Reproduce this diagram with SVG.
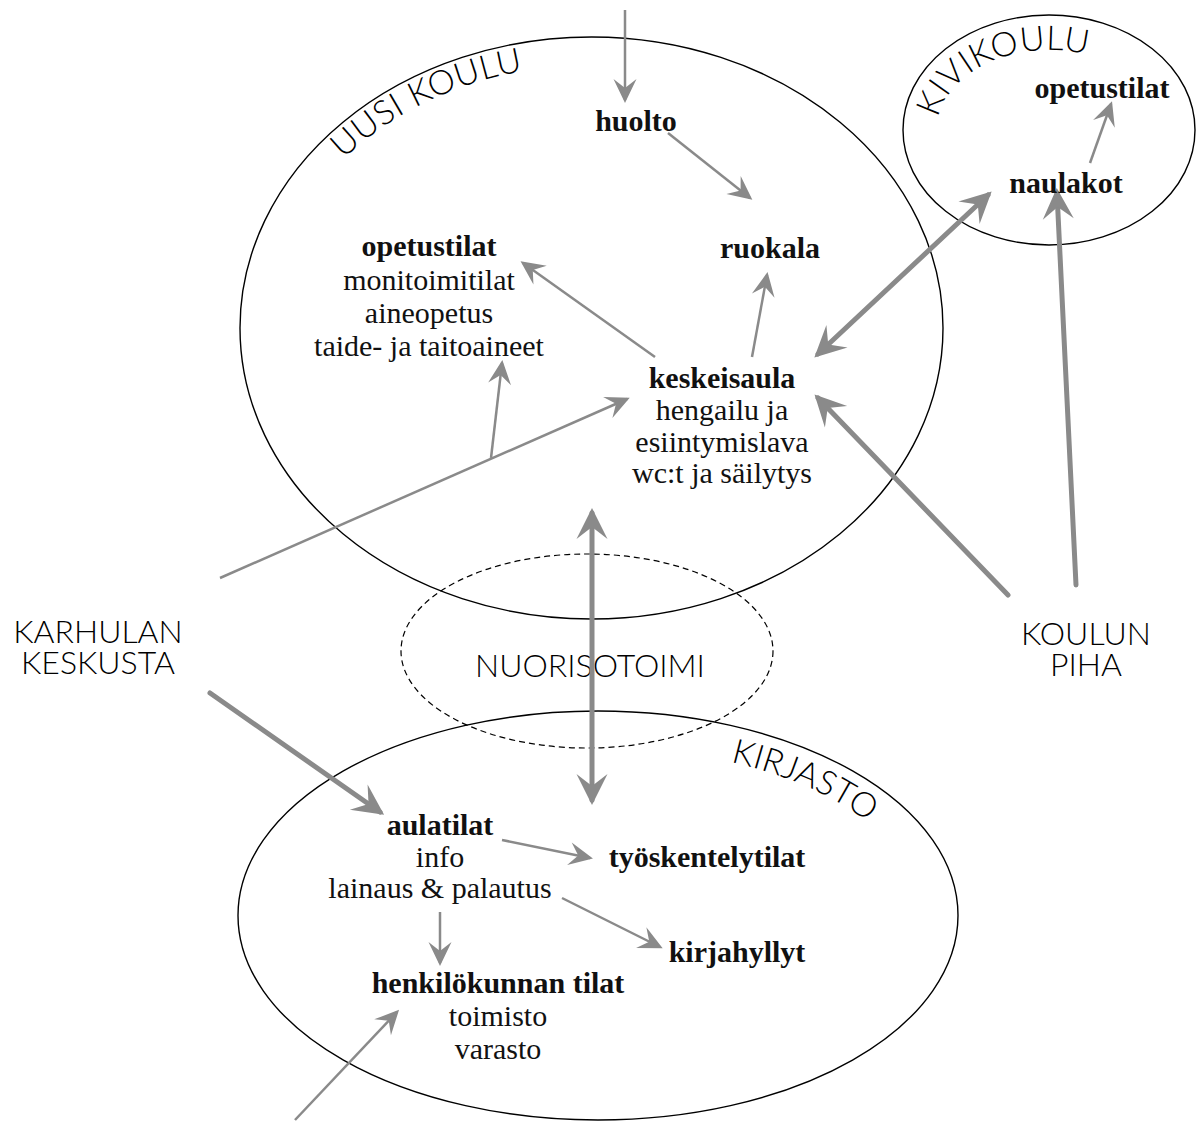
<svg xmlns="http://www.w3.org/2000/svg" xmlns:xlink="http://www.w3.org/1999/xlink" width="1196" height="1122" viewBox="0 0 1196 1122">
<style>
.area{fill:none;stroke:#000;stroke-width:1.4}
.dash{fill:none;stroke:#000;stroke-width:1.2;stroke-dasharray:6 4}
.sans{font-family:Lato,"Liberation Sans",sans-serif;font-weight:300;font-size:32px;fill:#000}
.curve{font-size:34px}
.serif{font-family:"Liberation Serif","DejaVu Serif",serif;font-size:30px;fill:#111;text-anchor:middle}
.b{font-weight:bold}
.thin{fill:none;stroke:#8a8a8a;stroke-width:2.5;marker-end:url(#ah)}
.thick{fill:none;stroke:#8a8a8a;stroke-width:5;stroke-linecap:round;marker-end:url(#ahL)}
.both{marker-start:url(#ahL)}
.mid{text-anchor:middle}
</style>
<defs>
<marker id="ah" markerUnits="userSpaceOnUse" viewBox="-24 -12 28 24" refX="0" refY="0" markerWidth="28" markerHeight="24" orient="auto-start-reverse" overflow="visible">
<path d="M3,0 L-21,-11.5 L-12,0 L-21,11.5 Z" fill="#8a8a8a"/>
</marker>
<marker id="ahL" markerUnits="userSpaceOnUse" viewBox="-32 -16 38 32" refX="0" refY="0" markerWidth="38" markerHeight="32" orient="auto-start-reverse" overflow="visible">
<path d="M5,0 L-26,-15.5 L-14,0 L-26,15.5 Z" fill="#8a8a8a"/>
</marker>
<path id="pUusi" d="M268,328 A323.5 263 0 0 1 915,328"/>
<path id="pKivi" d="M937,130 A112 80 0 0 1 1161,130"/>
<path id="pKirj" d="M274,915.5 A324 168.5 0 0 1 922,915.5"/>
</defs>

<g id="uusi-koulu">
<ellipse class="area" cx="591.5" cy="328" rx="351.5" ry="291"/>
<text class="sans curve" letter-spacing="0.5"><textPath xlink:href="#pUusi" startOffset="190">UUSI KOULU</textPath></text>
</g>
<g id="kivikoulu">
<ellipse class="area" cx="1049" cy="130" rx="146" ry="115"/>
<text class="sans curve" letter-spacing="0.5"><textPath xlink:href="#pKivi" startOffset="12">KIVIKOULU</textPath></text>
</g>
<g id="kirjasto">
<ellipse class="area" cx="598" cy="915.5" rx="360" ry="204.5"/>
<text class="sans curve"><textPath xlink:href="#pKirj" startOffset="530">KIRJASTO</textPath></text>
</g>
<g id="nuorisotoimi">
<ellipse class="dash" cx="587" cy="651" rx="186" ry="97"/>
<text class="sans mid" x="590" y="677">NUORISOTOIMI</text>
</g>

<g id="connectors">
<line class="thin" x1="625" y1="10" x2="625" y2="100"/>
<line class="thin" x1="668" y1="133" x2="750" y2="198"/>
<line class="thin" x1="655" y1="357" x2="523" y2="263"/>
<line class="thin" x1="752" y1="357" x2="767" y2="275"/>
<line class="thin" x1="220" y1="578" x2="627" y2="399"/>
<line class="thin" x1="491" y1="458" x2="502" y2="363"/>
<line class="thin" x1="1090" y1="163" x2="1111" y2="104"/>
<line class="thick both" x1="818" y1="354" x2="988" y2="195"/>
<line class="thick" x1="1008" y1="595" x2="818" y2="398"/>
<line class="thick" x1="1076" y1="585" x2="1057" y2="193"/>
<line class="thick both" x1="592" y1="513" x2="592" y2="800"/>
<line class="thick" x1="210" y1="693" x2="380" y2="812"/>
<line class="thin" x1="502" y1="840" x2="590" y2="858"/>
<line class="thin" x1="562" y1="898" x2="660" y2="947"/>
<line class="thin" x1="440" y1="912" x2="440" y2="963"/>
<line class="thin" x1="295" y1="1120" x2="397" y2="1012"/>
</g>

<g id="huolto"><text class="serif b" x="636" y="131">huolto</text></g>
<g id="ruokala"><text class="serif b" x="770" y="258">ruokala</text></g>
<g id="opetustilat-uusi">
<text class="serif b" x="429" y="256">opetustilat</text>
<text class="serif" x="429" y="290">monitoimitilat</text>
<text class="serif" x="429" y="323">aineopetus</text>
<text class="serif" x="429" y="356">taide- ja taitoaineet</text>
</g>
<g id="keskeisaula">
<text class="serif b" x="722" y="388">keskeisaula</text>
<text class="serif" x="722" y="420">hengailu ja</text>
<text class="serif" x="722" y="452">esiintymislava</text>
<text class="serif" x="722" y="483">wc:t ja säilytys</text>
</g>
<g id="opetustilat-kivi"><text class="serif b" x="1102" y="98">opetustilat</text></g>
<g id="naulakot"><text class="serif b" x="1066" y="193">naulakot</text></g>
<g id="karhulan-keskusta">
<text class="sans mid" x="98" y="643">KARHULAN</text>
<text class="sans mid" x="98" y="674">KESKUSTA</text>
</g>
<g id="koulun-piha">
<text class="sans mid" x="1086" y="645">KOULUN</text>
<text class="sans mid" x="1086" y="676">PIHA</text>
</g>
<g id="aulatilat">
<text class="serif b" x="440" y="835">aulatilat</text>
<text class="serif" x="440" y="867">info</text>
<text class="serif" x="440" y="898">lainaus &amp; palautus</text>
</g>
<g id="tyoskentelytilat"><text class="serif b" x="707" y="867">työskentelytilat</text></g>
<g id="kirjahyllyt"><text class="serif b" x="737" y="962">kirjahyllyt</text></g>
<g id="henkilokunnan-tilat">
<text class="serif b" x="498" y="993">henkilökunnan tilat</text>
<text class="serif" x="498" y="1026">toimisto</text>
<text class="serif" x="498" y="1059">varasto</text>
</g>
</svg>
